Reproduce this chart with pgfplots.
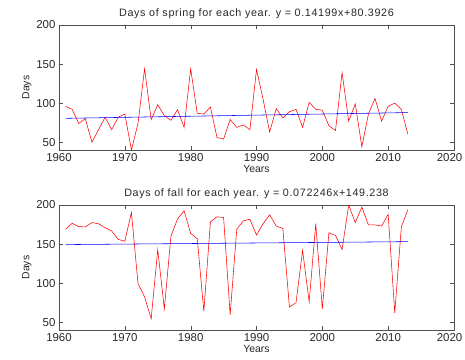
\documentclass[border=0pt]{standalone}
\usepackage{pgfplots}
\pgfplotsset{compat=1.18}
\usepackage{fontspec}
\setmainfont{Liberation Sans}
\newfontfamily\titlefont[LetterSpace=6]{Liberation Sans}
\definecolor{axgray}{RGB}{80,80,80}
\definecolor{txtgray}{RGB}{40,40,40}
\pgfplotstableread{
year spring fall
1961 96 169
1962 92 176.6
1963 74 172.3
1964 80 172
1965 50 177.5
1966 66 176
1967 82 171
1968 66 166.7
1969 82 156
1970 86 153.7
1971 40 190.5
1972 74 99.7
1973 144 82.4
1974 79 54.3
1975 98 143
1976 84 67
1977 78 160
1978 91.6 182
1979 69 192.6
1980 144 163.7
1981 87 156.8
1982 86 63.8
1983 95 178.4
1984 56 184.9
1985 54 184
1986 79 59.5
1987 69 169
1988 72 179.7
1989 66 181.8
1990 143 161.5
1991 105 176
1992 63 187.5
1993 93 173
1994 81 170
1995 89 69.4
1996 92 75
1997 69 142
1998 101 76
1999 92 176
2000 91 67
2001 71 164.5
2002 65 161
2003 139 143
2004 77 200
2005 99 177.5
2006 44 197.4
2007 86 174.5
2008 106 174.5
2009 77 173
2010 96 188
2011 100 62
2012 92 172
2013 60 194
}\datatable
\pgfplotsset{
  myax/.style={
    scale only axis, width=395bp, height=125bp,
    xmin=1960, xmax=2020, ymin=40, ymax=200,
    xtick={1960,1970,...,2020}, ytick={50,100,150,200},
    xticklabels={1960,1970,1980,1990,2000,2010,\hspace*{-9bp}2020},
    tick align=inside, major tick length=4bp,
    axis line style={axgray}, tick style={axgray},
    every tick label/.append style={font=\fontsize{11.5}{12}\selectfont, text=txtgray},
    /pgf/number format/assume math mode=true,
    /pgf/number format/1000 sep={},
    xlabel={Years}, ylabel={Days},
    label style={font=\fontsize{10.5}{12}\selectfont, text=txtgray},
    xlabel style={yshift=3bp},
    ylabel style={yshift=-2bp},
    title style={font=\titlefont\fontsize{10.8}{12}\selectfont, text=txtgray, yshift=-3bp},
    anchor=south west,
  }
}
\begin{document}
\begin{tikzpicture}[x=1bp,y=1bp]
\useasboundingbox (0,0) rectangle (465,359);
\begin{axis}[myax, at={(59bp,209bp)},
  title={Days of spring for each year. y = 0.14199x+80.3926}]
\addplot[red, line width=0.55pt, no markers] table[x=year, y=spring] {\datatable};
\addplot[blue, line width=0.55pt, no markers] coordinates {(1961,80.534) (2013,87.918)};
\end{axis}
\begin{axis}[myax, at={(59bp,29bp)},
  title={Days of fall for each year. y = 0.072246x+149.238}]
\addplot[red, line width=0.55pt, no markers] table[x=year, y=fall] {\datatable};
\addplot[blue, line width=0.55pt, no markers] coordinates {(1961,149.310) (2013,153.067)};
\end{axis}
\end{tikzpicture}
\end{document}
